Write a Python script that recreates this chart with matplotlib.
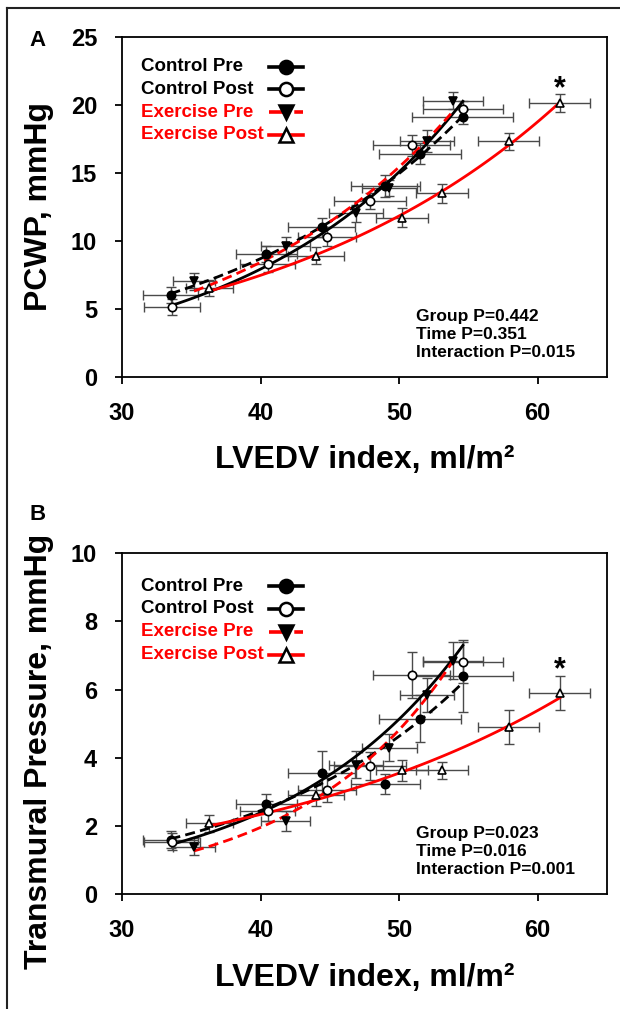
import numpy as np
import matplotlib.pyplot as plt
from matplotlib.lines import Line2D

plt.rcParams['font.family'] = ['Liberation Sans', 'DejaVu Sans']
plt.rcParams['font.weight'] = 'bold'
plt.rcParams['axes.labelweight'] = 'bold'

groups = ['Control Pre', 'Control Post', 'Exercise Pre', 'Exercise Post']

# LVEDV index, ml/m2 (mean and SD), same for both panels
ctrl_pre_x = [33.5, 40.4, 44.4, 49.0, 51.5, 54.6]
ctrl_post_x = [33.6, 40.5, 44.8, 47.9, 50.9, 54.6]
ex_pre_x = [35.2, 41.8, 46.9, 49.3, 52.0, 53.9]
ex_post_x = [36.3, 44.0, 50.2, 53.1, 57.9, 61.6]

ctrl_pre_xerr = [2.0, 2.2, 2.45, 2.5, 2.95, 3.65]
ctrl_post_xerr = [2.0, 2.0, 2.1, 2.6, 2.8, 2.9]
ex_pre_xerr = [1.5, 1.8, 1.95, 2.0, 1.95, 2.15]
ex_post_xerr = [1.7, 2.0, 1.9, 1.85, 2.2, 2.2]

# panel A: PCWP, mmHg
pcwp_ctrl_pre = [6.0, 9.0, 11.0, 14.0, 16.4, 19.1]
pcwp_ctrl_post = [5.1, 8.3, 10.3, 12.9, 17.0, 19.7]
pcwp_ex_pre = [7.0, 9.6, 12.0, 13.85, 17.3, 20.3]
pcwp_ex_post = [6.5, 8.9, 11.7, 13.5, 17.3, 20.1]

pcwp_ctrl_pre_err = [0.6, 0.6, 0.7, 0.8, 0.8, 0.5]
pcwp_ctrl_post_err = [0.6, 0.6, 0.7, 0.6, 0.8, 0.6]
pcwp_ex_pre_err = [0.6, 0.7, 0.6, 0.6, 0.8, 0.6]
pcwp_ex_post_err = [0.6, 0.6, 0.7, 0.7, 0.6, 0.65]

# panel B: transmural pressure, mmHg
tmp_ctrl_pre = [1.6, 2.65, 3.57, 3.24, 5.15, 6.4]
tmp_ctrl_post = [1.55, 2.45, 3.06, 3.76, 6.43, 6.8]
tmp_ex_pre = [1.4, 2.15, 3.8, 4.3, 5.85, 6.85]
tmp_ex_post = [2.08, 2.9, 3.63, 3.63, 4.91, 5.9]

tmp_ctrl_pre_err = [0.25, 0.3, 0.64, 0.3, 0.7, 1.05]
tmp_ctrl_post_err = [0.25, 0.3, 0.35, 0.4, 0.68, 0.6]
tmp_ex_pre_err = [0.25, 0.3, 0.4, 0.4, 0.5, 0.55]
tmp_ex_post_err = [0.25, 0.3, 0.3, 0.25, 0.5, 0.5]

stats_A = ['Group P=0.442', 'Time P=0.351', 'Interaction P=0.015']
stats_B = ['Group P=0.023', 'Time P=0.016', 'Interaction P=0.001']

xs = [ctrl_pre_x, ctrl_post_x, ex_pre_x, ex_post_x]
xerrs = [ctrl_pre_xerr, ctrl_post_xerr, ex_pre_xerr, ex_post_xerr]

colors = ['black', 'black', '#ff0000', '#ff0000']
dashed = [True, False, True, False]
markers = ['o', 'o', 'v', '^']
faces = ['black', 'white', 'black', 'white']


def draw_panel(ax, ys, yerrs, ymax, ystep, ylabel, ylab_y, stats, leg_top):
    for i in range(4):
        x = np.array(xs[i])
        y = np.array(ys[i])
        ax.errorbar(x, y, xerr=xerrs[i], yerr=yerrs[i], fmt='none', ecolor='#4a4a4a',
                    elinewidth=1, capsize=3.5, capthick=1, zorder=2)
        # exponential fit through the group means (weighted ~ linear least squares)
        b, lna = np.polyfit(x, np.log(y), 1, w=y)
        xf = np.linspace(x.min(), x.max(), 100)
        ln, = ax.plot(xf, np.exp(lna + b * xf), color=colors[i], lw=2, zorder=3)
        if dashed[i]:
            ln.set_dashes([3.6, 1.9])
        ax.plot(x, y, ls='none', marker=markers[i], ms=6, mfc=faces[i], mec='black',
                mew=1.2, zorder=4)

    # asterisk over last Exercise Post point
    ax.annotate('*', xy=(xs[3][-1], ys[3][-1] + yerrs[3][-1]), xytext=(0, -7),
                textcoords='offset points', ha='center', va='bottom', fontsize=22)

    # legend: text left, handle column right
    for i, g in enumerate(groups):
        yy = leg_top - i * 0.067
        ax.text(0.04, yy, g, color=colors[i], fontsize=13.5, va='center', ha='left',
                transform=ax.transAxes)
        h, = ax.plot([0.303, 0.373], [yy, yy], color=colors[i], lw=2.6,
                     transform=ax.transAxes, clip_on=False)
        if i == 2:
            h.set_dashes([4.5, 2.5])
        ax.plot([0.338], [yy], marker=markers[i], ms=9.5, mfc=faces[i], mec='black',
                mew=1.8, transform=ax.transAxes, clip_on=False)

    ax.text(0.606, 0.125, '\n'.join(stats), transform=ax.transAxes, fontsize=12.5,
            va='center', ha='left', linespacing=1.25)

    ax.set_xlim(30, 65)
    ax.set_xticks([30, 40, 50, 60])
    ax.set_ylim(0, ymax)
    ax.set_yticks(np.arange(0, ymax + 0.1, ystep))
    ax.tick_params(direction='out', length=5, width=1.3, labelsize=17, pad=13)
    for s in ax.spines.values():
        s.set_linewidth(1.3)
    ax.set_xlabel('LVEDV index, ml/m²', fontsize=23)
    ax.xaxis.set_label_coords(0.5, -0.2)
    ax.set_ylabel(ylabel, fontsize=23)
    ax.yaxis.set_label_coords(-0.14, ylab_y)


fig = plt.figure(figsize=(6.2, 10.09), dpi=100)
axA = fig.add_axes([122 / 620, 0.6267, 485 / 620, 0.337])
axB = fig.add_axes([122 / 620, 0.1135, 485 / 620, 0.3385])

draw_panel(axA, [pcwp_ctrl_pre, pcwp_ctrl_post, pcwp_ex_pre, pcwp_ex_post],
           [pcwp_ctrl_pre_err, pcwp_ctrl_post_err, pcwp_ex_pre_err, pcwp_ex_post_err],
           25, 5, 'PCWP, mmHg', 0.5, stats_A, 0.912)
draw_panel(axB, [tmp_ctrl_pre, tmp_ctrl_post, tmp_ex_pre, tmp_ex_post],
           [tmp_ctrl_pre_err, tmp_ctrl_post_err, tmp_ex_pre_err, tmp_ex_post_err],
           10, 2, 'Transmural Pressure, mmHg', 0.42, stats_B, 0.903)

fig.text(38 / 620, 1 - 40 / 1009, 'A', fontsize=16, ha='center', va='center')
fig.text(38 / 620, 1 - 514 / 1009, 'B', fontsize=16, ha='center', va='center')

# frame lines on top and left of the figure
fig.add_artist(Line2D([7 / 620, 7 / 620], [0, 1 - 8 / 1009], transform=fig.transFigure,
                      color='#222222', lw=1.5))
fig.add_artist(Line2D([7 / 620, 1], [1 - 8 / 1009, 1 - 8 / 1009], transform=fig.transFigure,
                      color='#222222', lw=1.5))

fig.savefig('out.png', dpi=100)
